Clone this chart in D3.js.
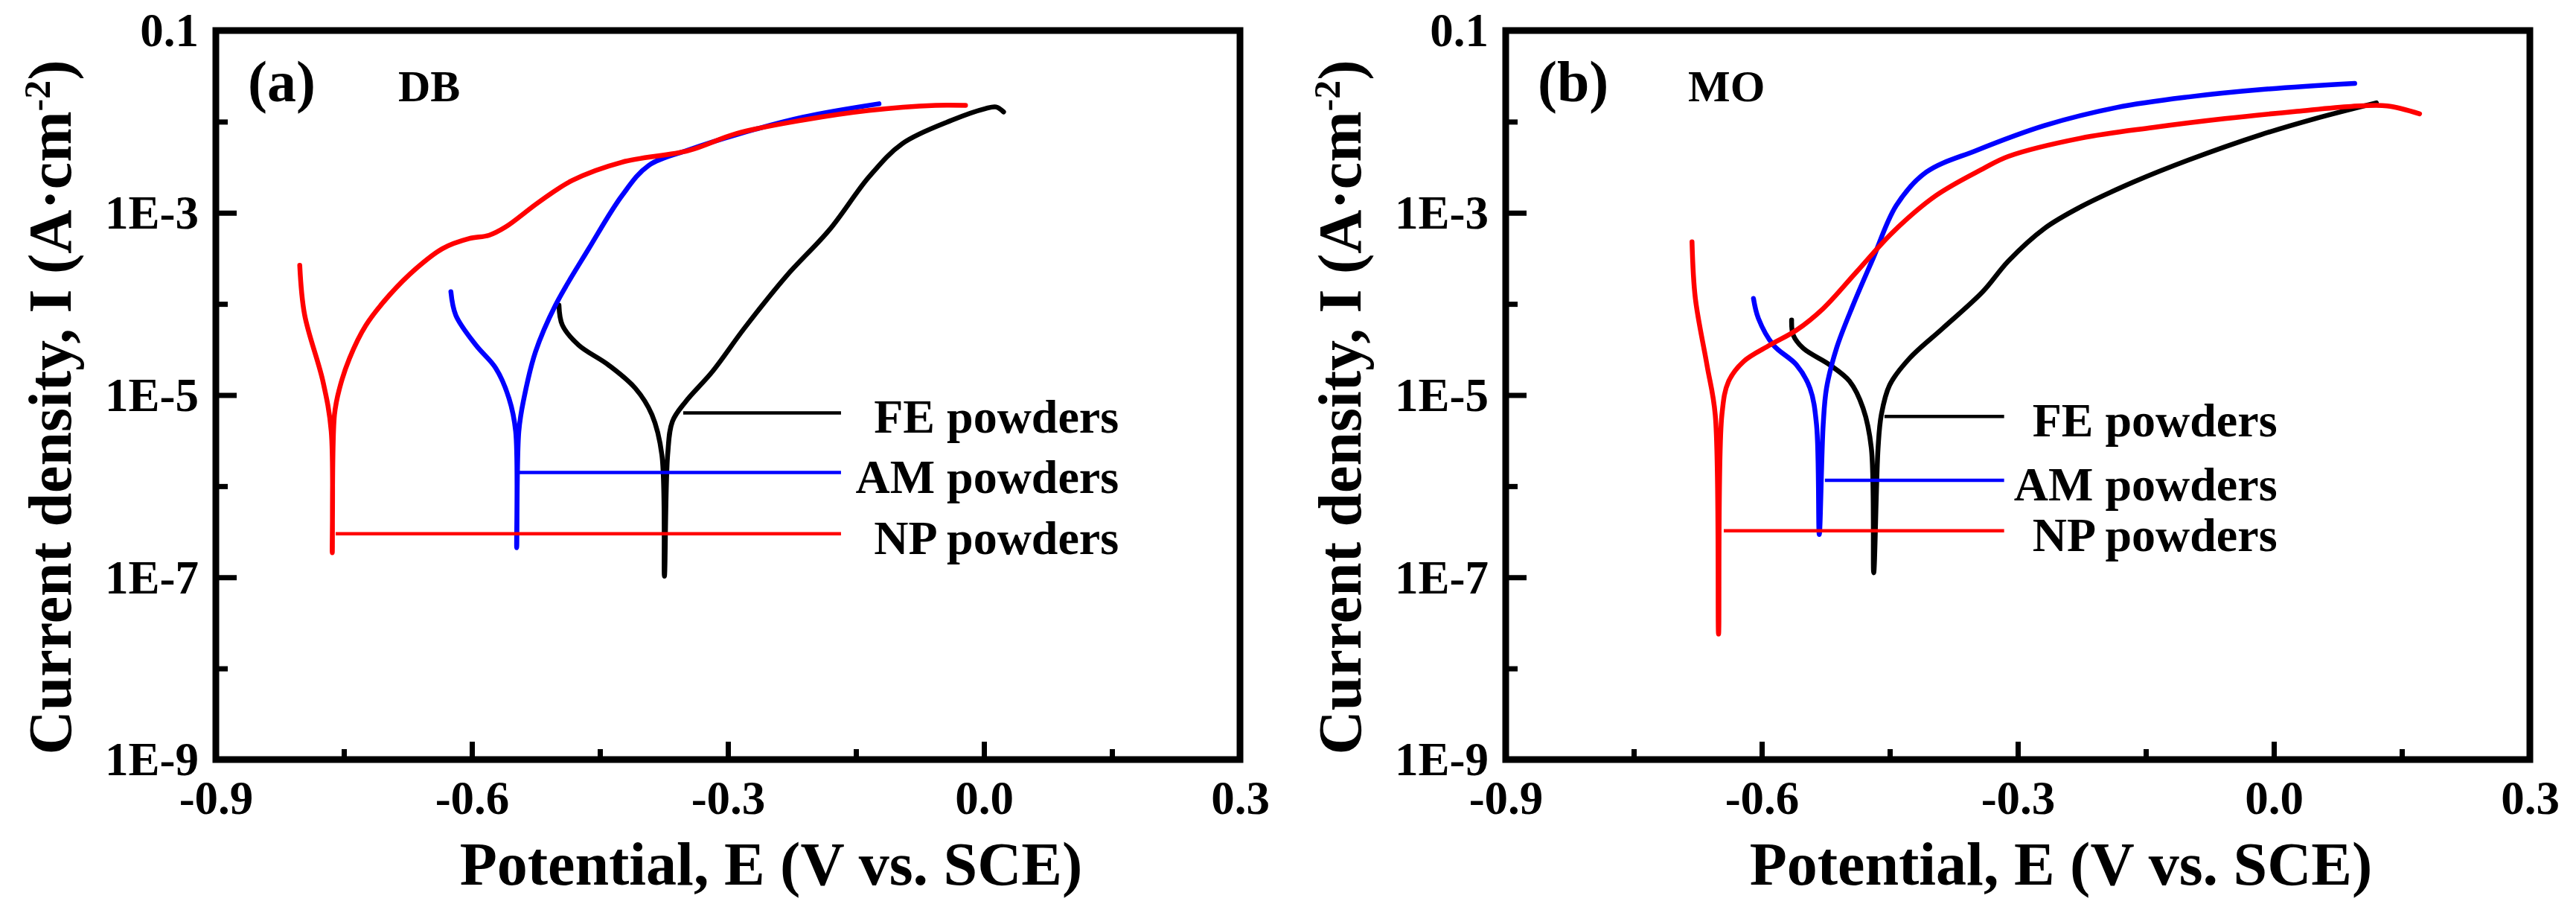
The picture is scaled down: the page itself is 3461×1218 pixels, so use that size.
<!DOCTYPE html>
<html>
<head>
<meta charset="utf-8">
<script src="https://cdn.jsdelivr.net/npm/d3@7"></script>
<style>
  body { margin: 0; background: #fff; }
  text { font-family: "Liberation Serif", "Times New Roman", serif; font-weight: bold; fill: #000; }
</style>
</head>
<body>
<svg id="chart"></svg>
<script>
// tick values and labels
var potMajor = [-0.9, -0.6, -0.3, 0.0, 0.3];
var potMinor = [-0.75, -0.45, -0.15, 0.15];
var potLabels = ["-0.9", "-0.6", "-0.3", "0.0", "0.3"];
var curMajor = [1e-1, 1e-3, 1e-5, 1e-7, 1e-9];
var curMinor = [1e-2, 1e-4, 1e-6, 1e-8];
var curLabels = ["0.1", "1E-3", "1E-5", "1E-7", "1E-9"];

var seriesNames = ["FE powders", "AM powders", "NP powders"];
var seriesColors = ["#000000", "#0000ff", "#ff0000"];

// (a) DB -- [potential V, current density A/cm2]
var dbFE = [[-0.498, 9.7e-5], [-0.494, 5.86e-5], [-0.475, 3.54e-5], [-0.44, 2.14e-5], [-0.4086, 1.19e-5],
  [-0.389, 6.07e-6], [-0.3774, 2.21e-6], [-0.3744, 1.03e-7], [-0.3706, 2.21e-6], [-0.365, 5.14e-6],
  [-0.3494, 8.5e-6], [-0.3182, 1.81e-5], [-0.2808, 5.4e-5], [-0.232, 2.0e-4], [-0.1813, 6.47e-4],
  [-0.1346, 2.48e-3], [-0.0956, 5.75e-3], [-0.0373, 1.04e-2], [0.0017, 1.39e-2], [0.014, 1.45e-2], [0.023, 1.28e-2]];
var dbAM = [[-0.6246, 1.36e-4], [-0.6188, 7.5e-5], [-0.5954, 3.54e-5], [-0.572, 1.97e-5], [-0.5565, 9.2e-6],
  [-0.5487, 4.0e-6], [-0.5475, 2.11e-7], [-0.545, 4.0e-6], [-0.539, 9.2e-6], [-0.5254, 2.99e-5],
  [-0.502, 9.7e-5], [-0.463, 4.05e-4], [-0.424, 1.55e-3], [-0.393, 3.3e-3], [-0.346, 4.9e-3],
  [-0.29, 7.2e-3], [-0.2124, 1.12e-2], [-0.123, 1.57e-2]];
var dbNP = [[-0.8017, 2.66e-4], [-0.796, 7.6e-5], [-0.7745, 1.41e-5], [-0.7648, 4.0e-6], [-0.7636, 1.86e-7],
  [-0.761, 6.07e-6], [-0.755, 1.19e-5], [-0.7434, 2.53e-5], [-0.724, 5.86e-5], [-0.6966, 1.25e-4],
  [-0.6655, 2.44e-4], [-0.6344, 4.05e-4], [-0.6033, 5.21e-4], [-0.58, 5.66e-4], [-0.5605, 6.98e-4],
  [-0.5215, 1.31e-3], [-0.4826, 2.26e-3], [-0.4242, 3.59e-3], [-0.346, 4.82e-3], [-0.29, 7.41e-3],
  [-0.2124, 1.04e-2], [-0.1346, 1.33e-2], [-0.0567, 1.51e-2], [-0.0216, 1.51e-2]];

// (b) MO
var moFE = [[-0.565, 6.65e-5], [-0.5631, 4.56e-5], [-0.5514, 3.26e-5], [-0.5202, 2.14e-5], [-0.4969, 1.41e-5],
  [-0.4813, 7.18e-6], [-0.4716, 2.62e-6], [-0.4688, 1.12e-7], [-0.4637, 2.62e-6], [-0.4599, 6.07e-6],
  [-0.4501, 1.29e-5], [-0.4268, 2.53e-5], [-0.3879, 5.4e-5], [-0.3411, 1.36e-4], [-0.311, 2.96e-4],
  [-0.2688, 6.73e-4], [-0.2265, 1.16e-3], [-0.1631, 2.2e-3], [-0.0997, 3.8e-3], [-0.0151, 7.2e-3],
  [0.0483, 1.08e-2], [0.1202, 1.61e-2]];
var moAM = [[-0.6097, 1.15e-4], [-0.6039, 6.93e-5], [-0.5864, 3.54e-5], [-0.5592, 2.14e-5], [-0.5435, 1.19e-5],
  [-0.5358, 4.72e-6], [-0.5326, 2.95e-7], [-0.528, 4.72e-6], [-0.5241, 1.19e-5], [-0.5124, 3.26e-5],
  [-0.493, 9.7e-5], [-0.4696, 3.15e-4], [-0.4424, 1.2e-3], [-0.4073, 2.79e-3], [-0.3489, 4.82e-3],
  [-0.2688, 9.06e-3], [-0.1842, 1.43e-2], [-0.0997, 1.87e-2], [-0.0151, 2.25e-2], [0.0948, 2.63e-2]];
var moNP = [[-0.6817, 4.79e-4], [-0.6778, 1.15e-4], [-0.6642, 2.14e-5], [-0.6545, 6.07e-6], [-0.6506, 2.38e-8],
  [-0.6467, 6.07e-6], [-0.6389, 1.41e-5], [-0.6214, 2.33e-5], [-0.5903, 3.54e-5], [-0.5592, 5.16e-5],
  [-0.528, 8.9e-5], [-0.489, 2.24e-4], [-0.4462, 6.15e-4], [-0.3956, 1.55e-3], [-0.3411, 3.03e-3],
  [-0.311, 4.16e-3], [-0.2265, 6.58e-3], [-0.1419, 8.63e-3], [-0.0574, 1.08e-2], [0.0271, 1.3e-2],
  [0.0905, 1.47e-2], [0.1328, 1.49e-2], [0.1708, 1.22e-2]];

// legend leader lines: start potential (on the curve) and current level, per series
var dbLegendStart = [-0.3524, -0.545, -0.7596];
var dbLegendLevel = [6.38e-6, 1.41e-6, 3.0e-7];
var moLegendStart = [-0.4562, -0.526, -0.6445];
var moLegendLevel = [5.82e-6, 1.16e-6, 3.24e-7];

var W = 3461, H = 1218;
var pw = 1376, ph = 979;

var svg = d3.select("#chart").attr("width", W).attr("height", H);
svg.append("rect").attr("width", W).attr("height", H).attr("fill", "#fff");

var x = d3.scaleLinear().domain([-0.9, 0.3]).range([0, pw]);
var y = d3.scaleLog().domain([1e-9, 0.1]).range([ph, 0]);

var line = d3.line()
  .x(function(d) { return x(d[0]); })
  .y(function(d) { return y(d[1]); })
  .curve(d3.curveCatmullRom.alpha(0.5));

function drawPanel(left, tag, name, curves, legStart, legLevel, legLineEnd, legTextEnd) {
  var g = svg.append("g").attr("transform", "translate(" + left + ",41)");

  // minor ticks
  g.append("g").attr("transform", "translate(0," + ph + ")")
    .call(d3.axisBottom(x).tickValues(potMinor).tickSize(-14).tickFormat(""))
    .call(styleAxis);
  g.append("g")
    .call(d3.axisLeft(y).tickValues(curMinor).tickSize(-16).tickFormat(""))
    .call(styleAxis);

  // major ticks + labels
  var xa = g.append("g").attr("transform", "translate(0," + ph + ")")
    .call(d3.axisBottom(x).tickValues(potMajor).tickSize(-24).tickFormat(function(d, i) { return potLabels[i]; }))
    .call(styleAxis);
  xa.selectAll("text").attr("dy", null).attr("y", 73).style("font-size", "63px");

  var ya = g.append("g")
    .call(d3.axisLeft(y).tickValues(curMajor).tickSize(-28).tickPadding(23).tickFormat(function(d, i) { return curLabels[i]; }))
    .call(styleAxis);
  ya.selectAll("text").attr("dy", "0.33em").style("font-size", "63px");

  // curves (black, blue, red)
  curves.forEach(function(c, i) {
    g.append("path")
      .datum(c)
      .attr("d", line)
      .attr("fill", "none")
      .attr("stroke", seriesColors[i])
      .attr("stroke-width", 6.5)
      .attr("stroke-linecap", "round")
      .attr("stroke-linejoin", "round");
  });

  // legend leader lines and names
  seriesNames.forEach(function(s, i) {
    g.append("line")
      .attr("x1", x(legStart[i])).attr("x2", x(legLineEnd))
      .attr("y1", y(legLevel[i])).attr("y2", y(legLevel[i]))
      .attr("stroke", seriesColors[i]).attr("stroke-width", 4.5);
    g.append("text")
      .attr("x", x(legTextEnd)).attr("y", y(legLevel[i]) + 27)
      .attr("text-anchor", "end")
      .style("font-size", "64px")
      .text(s);
  });

  // frame
  g.append("rect").attr("width", pw).attr("height", ph)
    .attr("fill", "none").attr("stroke", "#000").attr("stroke-width", 9);

  g.append("text").attr("x", 43).attr("y", 95).style("font-size", "78px").text(tag);
  g.append("text").attr("x", 245).attr("y", 95).style("font-size", "60px").text(name);

  // axis titles
  g.append("text")
    .attr("x", 746).attr("y", 1147)
    .attr("text-anchor", "middle")
    .style("font-size", "82px")
    .text("Potential, E (V vs. SCE)");

  var yt = g.append("text")
    .attr("transform", "translate(-195,506) rotate(-90)")
    .attr("text-anchor", "middle")
    .style("font-size", "82px");
  yt.append("tspan").text("Current density, I (A\u00B7cm");
  yt.append("tspan").attr("baseline-shift", "super").style("font-size", "50px").text("-2");
  yt.append("tspan").text(")");
}

function styleAxis(sel) {
  sel.select(".domain").remove();
  sel.selectAll(".tick line").attr("stroke", "#000").attr("stroke-width", 7);
  sel.selectAll(".tick text").attr("fill", "#000");
}

drawPanel(290, "(a)", "DB", [dbFE, dbAM, dbNP], dbLegendStart, dbLegendLevel, -0.1675, 0.158);
drawPanel(2023, "(b)", "MO", [moFE, moAM, moNP], moLegendStart, moLegendLevel, -0.316, 0.004);
</script>
</body>
</html>
